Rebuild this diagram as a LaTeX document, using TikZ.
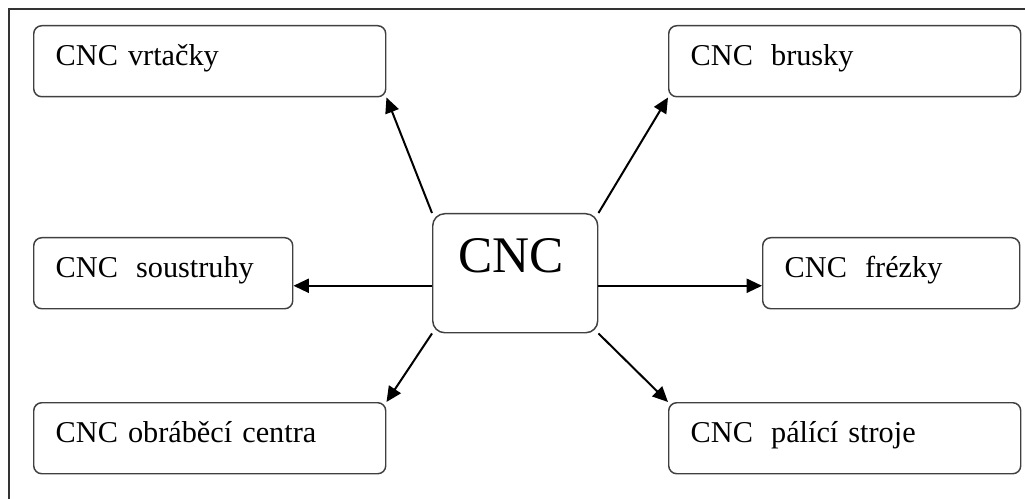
\documentclass[tikz,border=0pt]{standalone}
\usepackage{fontspec}
\setmainfont{Liberation Serif}
\usetikzlibrary{arrows.meta}
\newcommand{\dsp}{\hspace{0.6em}}
\tikzset{
  itembox/.style={draw=black!75, line width=1.1pt, rounded corners=6pt, anchor=north west,
    inner xsep=16.5pt, inner ysep=0pt, text height=30pt, text depth=23.25pt, align=left,
    font=\fontsize{22.7pt}{27pt}\selectfont},
  hubbox/.style={draw=black!75, line width=1.1pt, rounded corners=9pt, anchor=north west,
    inner xsep=0pt, inner ysep=0pt, text width=123.75pt, text height=44pt, text depth=45.25pt,
    align=center, font=\fontsize{38.5pt}{44pt}\selectfont},
  conn/.style={line width=1.5pt, -{Triangle[length=11.5pt,width=10.5pt]}},
  frame/.style={draw=black!80, line width=1.4pt}
}
\begin{document}
\begin{tikzpicture}[x=0.75pt,y=-0.75pt]
\useasboundingbox (0,0) rectangle (1025,499);
\draw[frame] (9,499) -- (9,9) -- (1025,9);
\node[hubbox] (cnc) at (432,213) {\hspace*{-6pt}CNC};
\node[itembox, text width=231pt] (vrt) at (33,25) {CNC vrtačky};
\node[itembox, text width=231pt] (bru) at (668,25) {CNC\dsp brusky};
\node[itembox, text width=161.25pt] (sou) at (33,237) {CNC\dsp soustruhy};
\node[itembox, text width=159.75pt] (fre) at (762,237) {CNC\dsp frézky};
\node[itembox, text width=231pt] (obr) at (33,402) {CNC obráběcí centra};
\node[itembox, text width=231pt] (pal) at (668,402) {CNC\dsp pálící stroje};
\draw[conn] (cnc.north west) -- (vrt.south east);
\draw[conn] (cnc.north east) -- (bru.south west);
\draw[conn] ([yshift=-9.4pt]cnc.west) -- ([yshift=-9.4pt]sou.east);
\draw[conn] ([yshift=-9.4pt]cnc.east) -- ([yshift=-9.4pt]fre.west);
\draw[conn] (cnc.south west) -- (obr.north east);
\draw[conn] (cnc.south east) -- (pal.north west);
\end{tikzpicture}
\end{document}
